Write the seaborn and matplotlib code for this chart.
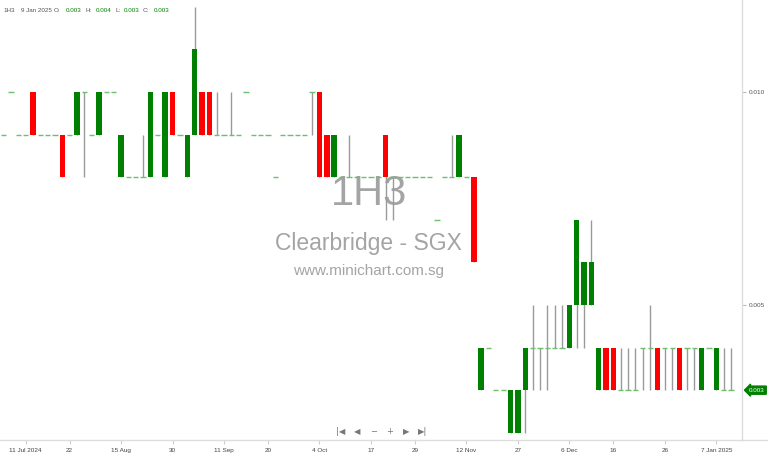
import numpy as np
import pandas as pd
import matplotlib
matplotlib.use('Agg')
import matplotlib.pyplot as plt
import seaborn as sns

# daily OHLC for 1H3 (Clearbridge), one entry per traded session
opens = [0.009, 0.010, 0.009, 0.009, 0.010, 0.009, 0.009, 0.009, 0.009, 0.009,
         0.009, 0.010, 0.009, 0.009, 0.010, 0.010, 0.008, 0.008, 0.008, 0.008,
         0.008, 0.009, 0.008, 0.010, 0.009, 0.008, 0.009, 0.010, 0.010, 0.009,
         0.009, 0.009, 0.009, 0.010, 0.009, 0.009, 0.009, 0.008, 0.009, 0.009,
         0.009, 0.009, 0.010, 0.010, 0.009, 0.008, 0.008, 0.008, 0.008, 0.008,
         0.008, 0.008, 0.009, 0.008, 0.008, 0.008, 0.008, 0.008, 0.008, 0.007,
         0.008, 0.008, 0.008, 0.008, 0.008, 0.003, 0.004, 0.003, 0.003, 0.002,
         0.002, 0.003, 0.004, 0.004, 0.004, 0.004, 0.004, 0.004, 0.005, 0.005,
         0.005, 0.003, 0.004, 0.004, 0.003, 0.003, 0.003, 0.004, 0.004, 0.004,
         0.004, 0.004, 0.004, 0.004, 0.004, 0.003, 0.004, 0.003, 0.003, 0.003]
highs = [0.009, 0.010, 0.009, 0.009, 0.010, 0.009, 0.009, 0.009, 0.009, 0.009,
         0.010, 0.010, 0.009, 0.010, 0.010, 0.010, 0.009, 0.008, 0.008, 0.009,
         0.010, 0.009, 0.010, 0.010, 0.009, 0.009, 0.012, 0.010, 0.010, 0.010,
         0.009, 0.010, 0.009, 0.010, 0.009, 0.009, 0.009, 0.008, 0.009, 0.009,
         0.009, 0.009, 0.010, 0.010, 0.009, 0.009, 0.008, 0.009, 0.008, 0.008,
         0.008, 0.008, 0.009, 0.008, 0.008, 0.008, 0.008, 0.008, 0.008, 0.007,
         0.008, 0.009, 0.009, 0.008, 0.008, 0.004, 0.004, 0.003, 0.003, 0.003,
         0.003, 0.004, 0.005, 0.004, 0.005, 0.005, 0.005, 0.005, 0.007, 0.006,
         0.007, 0.004, 0.004, 0.004, 0.004, 0.004, 0.004, 0.004, 0.005, 0.004,
         0.004, 0.004, 0.004, 0.004, 0.004, 0.004, 0.004, 0.004, 0.004, 0.004]
lows = [0.009, 0.010, 0.009, 0.009, 0.009, 0.009, 0.009, 0.009, 0.008, 0.009,
        0.009, 0.008, 0.009, 0.009, 0.010, 0.010, 0.008, 0.008, 0.008, 0.008,
        0.008, 0.009, 0.008, 0.009, 0.009, 0.008, 0.009, 0.009, 0.009, 0.009,
        0.009, 0.009, 0.009, 0.010, 0.009, 0.009, 0.009, 0.008, 0.009, 0.009,
        0.009, 0.009, 0.009, 0.008, 0.008, 0.008, 0.008, 0.008, 0.008, 0.008,
        0.008, 0.008, 0.007, 0.007, 0.008, 0.008, 0.008, 0.008, 0.008, 0.007,
        0.008, 0.008, 0.008, 0.008, 0.006, 0.003, 0.004, 0.003, 0.003, 0.002,
        0.002, 0.002, 0.003, 0.003, 0.003, 0.004, 0.004, 0.004, 0.004, 0.004,
        0.005, 0.003, 0.003, 0.003, 0.003, 0.003, 0.003, 0.003, 0.003, 0.003,
        0.003, 0.003, 0.003, 0.003, 0.003, 0.003, 0.004, 0.003, 0.003, 0.003]
closes = [0.009, 0.010, 0.009, 0.009, 0.009, 0.009, 0.009, 0.009, 0.008, 0.009,
          0.010, 0.010, 0.009, 0.010, 0.010, 0.010, 0.009, 0.008, 0.008, 0.008,
          0.010, 0.009, 0.010, 0.009, 0.009, 0.009, 0.011, 0.009, 0.009, 0.009,
          0.009, 0.009, 0.009, 0.010, 0.009, 0.009, 0.009, 0.008, 0.009, 0.009,
          0.009, 0.009, 0.010, 0.008, 0.008, 0.009, 0.008, 0.008, 0.008, 0.008,
          0.008, 0.008, 0.008, 0.008, 0.008, 0.008, 0.008, 0.008, 0.008, 0.007,
          0.008, 0.008, 0.009, 0.008, 0.006, 0.004, 0.004, 0.003, 0.003, 0.003,
          0.003, 0.004, 0.004, 0.004, 0.004, 0.004, 0.004, 0.005, 0.007, 0.006,
          0.006, 0.004, 0.003, 0.003, 0.003, 0.003, 0.003, 0.004, 0.004, 0.003,
          0.004, 0.004, 0.003, 0.004, 0.004, 0.004, 0.004, 0.004, 0.003, 0.003]

# date labels on the x axis and the session each one sits under
tick_sessions = [3, 9, 16, 23, 30, 36, 43, 50, 56, 63, 70, 77, 83, 90, 97]
tick_labels = ['11 Jul 2024', '22', '15 Aug', '30', '11 Sep', '20', '4 Oct', '17',
               '29', '12 Nov', '27', '6 Dec', '16', '26', '7 Jan 2025']
price_ticks = [0.005, 0.010]

code = '1H3'
name = 'Clearbridge - SGX'
last_date = '9 Jan 2025'

df = pd.DataFrame({'open': opens, 'high': highs, 'low': lows, 'close': closes})
df['x'] = np.arange(len(df))
df['up'] = df['close'] > df['open']
df['down'] = df['close'] < df['open']
df['flat'] = df['close'] == df['open']

sns.set_theme(style='white')
plt.rcParams['font.family'] = ['Liberation Sans', 'DejaVu Sans']

fig = plt.figure(figsize=(7.68, 4.54), dpi=100)
ax = fig.add_axes([0, 14 / 454, 742 / 768, 440 / 454])

green = '#008000'
red = '#ff0000'
wick_col = '#9a9a9a'
doji_col = '#6cbf6c'
body_w = 0.74

# watermark
ax.text(0.497, 0.56, code, transform=ax.transAxes, ha='center', va='center',
        fontsize=30, color='#9a9a9a', alpha=0.9, zorder=0)
ax.text(0.497, 0.447, name, transform=ax.transAxes, ha='center', va='center',
        fontsize=16.5, color='#9a9a9a', alpha=0.9, zorder=0)
ax.text(0.497, 0.384, 'www.minichart.com.sg', transform=ax.transAxes, ha='center',
        va='center', fontsize=11, color='#9a9a9a', alpha=0.9, zorder=0)

# wicks
wk = df[df['high'] > df['low']]
ax.vlines(wk['x'], wk['low'], wk['high'], color=wick_col, lw=1, zorder=2)

# bodies
up = df[df['up']]
dn = df[df['down']]
ax.bar(up['x'], up['close'] - up['open'], bottom=up['open'], width=body_w,
       color=green, lw=0, zorder=3)
ax.bar(dn['x'], dn['open'] - dn['close'], bottom=dn['close'], width=body_w,
       color=red, lw=0, zorder=3)

# doji sessions: open == close
fl = df[df['flat']]
ax.hlines(fl['close'], fl['x'] - 0.36, fl['x'] + 0.36, color=doji_col, lw=1, zorder=3)

ax.set_xlim(-0.48, len(df) + 0.5)
ax.set_ylim(0.00183, 0.01216)

ax.set_xticks(tick_sessions)
ax.set_xticklabels(tick_labels)
ax.yaxis.tick_right()
ax.set_yticks(price_ticks)
ax.set_yticklabels(['%.3f' % p for p in price_ticks])
ax.tick_params(axis='x', length=3, width=0.8, color='#cccccc', labelsize=4.6,
               labelcolor='#444444', pad=2.5, bottom=True)
ax.tick_params(axis='y', length=3, width=0.8, color='#bbbbbb', labelsize=4.6,
               labelcolor='#555555', pad=2, right=True)
ax.grid(False)

for side in ['top', 'left']:
    ax.spines[side].set_visible(False)
ax.spines['right'].set_color('#dddddd')
ax.spines['bottom'].set_color('#dddddd')
ax.spines['right'].set_linewidth(1)
ax.spines['bottom'].set_linewidth(1)

# extend the bottom axis line across the price column
fig.add_artist(plt.Line2D([742 / 768, 1], [14 / 454, 14 / 454], color='#dddddd', lw=1))

# last price tag
ax.annotate('%.3f' % closes[-1], xy=(1.0, closes[-1]), xycoords=('axes fraction', 'data'),
            xytext=(5, 0), textcoords='offset points', ha='left', va='center',
            fontsize=4.5, color='white', annotation_clip=False,
            bbox=dict(boxstyle='larrow,pad=0.25', fc=green, ec=green))

# header line
hy = 1 - 10 / 454
parts = [(code, 3, '#555555'), (last_date, 21, '#555555'),
         ('O:', 54, '#555555'), ('%.3f' % opens[-1], 66, green),
         ('H:', 85, '#555555'), ('%.3f' % highs[-1], 96, green),
         ('L:', 115, '#555555'), ('%.3f' % lows[-1], 124, green),
         ('C:', 143, '#555555'), ('%.3f' % closes[-1], 154, green)]
for txt, px, col in parts:
    fig.text(px / 768, hy, txt, fontsize=4.5, color=col, ha='left', va='center')

# navigation buttons
nav = ['|◀', '◀', '−', '+', '▶', '▶|']
nav_px = [341, 357.5, 374, 390, 406.5, 423]
for sym, px in zip(nav, nav_px):
    fig.text(px / 768, 1 - 432 / 454, sym, fontsize=6, color='#777777',
             ha='center', va='center', family=['DejaVu Sans'])

fig.savefig('out.png', dpi=100)
